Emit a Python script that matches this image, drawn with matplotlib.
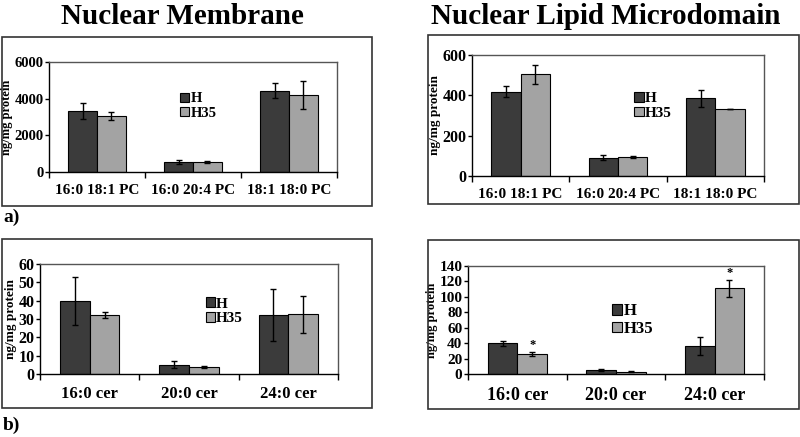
import numpy as np
import matplotlib
matplotlib.use("Agg")
import matplotlib.pyplot as plt
from matplotlib.patches import Rectangle

plt.rcParams['font.family'] = ['Liberation Serif', 'DejaVu Serif']
plt.rcParams['font.weight'] = 'bold'

W, H = 800, 437

pc_labels = ["16:0 18:1 PC", "16:0 20:4 PC", "18:1 18:0 PC"]
cer_labels = ["16:0 cer", "20:0 cer", "24:0 cer"]
series = ["H", "H35"]

# a) nuclear membrane
nm_pc_h = [3310, 545, 4420]
nm_pc_h_err = [430, 130, 410]
nm_pc_h35 = [3040, 545, 4200]
nm_pc_h35_err = [220, 40, 750]
# a) nuclear lipid microdomain
lm_pc_h = [418, 90, 385]
lm_pc_h_err = [27, 13, 42]
lm_pc_h35 = [504, 93, 332]
lm_pc_h35_err = [48, 4, 2]
# b) nuclear membrane
nm_cer_h = [39.8, 5.1, 32.2]
nm_cer_h_err = [13, 2, 14]
nm_cer_h35 = [32.2, 3.8, 32.5]
nm_cer_h35_err = [1.7, 0.7, 10]
# b) nuclear lipid microdomain
lm_cer_h = [39.6, 5.2, 35.8]
lm_cer_h_err = [3.7, 1.0, 11.6]
lm_cer_h35 = [25.9, 3.0, 111.2]
lm_cer_h35_err = [2.6, 0.5, 11]
lm_cer_star = [True, False, True]

dark = "#3b3b3b"
light = "#a3a3a3"

fig = plt.figure(figsize=(8, 4.37), dpi=100)


def px(x0, y0, x1, y1):
    return [x0 / W, 1 - y1 / H, (x1 - x0) / W, (y1 - y0) / H]


def panel(rect, labels, h, he, h35, h35e, ymax, ystep, tick_fs, xlab_fs, ylab_fs, leg_pos, leg_fs, stars=None):
    ax = fig.add_axes(px(*rect))
    x = np.arange(len(labels))
    w = 0.3
    ax.bar(x - w / 2, h, w, color=dark, edgecolor="black", linewidth=0.8,
           yerr=he, error_kw=dict(ecolor="black", elinewidth=1, capsize=2.5, capthick=1), label=series[0])
    ax.bar(x + w / 2, h35, w, color=light, edgecolor="black", linewidth=0.8,
           yerr=h35e, error_kw=dict(ecolor="black", elinewidth=1, capsize=2.5, capthick=1), label=series[1])
    if stars is not None:
        for i, s in enumerate(stars):
            if s:
                ax.text(x[i] + w / 2, h35[i] + h35e[i] + ymax * 0.01, "*", ha="center", va="bottom",
                        fontsize=9, fontweight="bold")
    ax.set_xlim(-0.5, len(labels) - 0.5)
    ax.set_ylim(0, ymax)
    ax.set_yticks(np.arange(0, ymax + ystep / 2, ystep))
    ax.set_xticks(x)
    ax.set_xticklabels(labels, fontsize=xlab_fs, fontweight="bold")
    ax.set_xticks(np.arange(-0.5, len(labels)), minor=True)
    ax.tick_params(axis="x", which="major", length=0, pad=9)
    ax.tick_params(axis="x", which="minor", length=4, direction="out", width=1)
    ax.tick_params(axis="y", length=3, width=1, direction="out", labelsize=tick_fs, pad=1)
    for t in ax.get_yticklabels():
        t.set_fontweight("bold")
    ax.set_ylabel("ng/mg protein", fontsize=ylab_fs, fontweight="bold", labelpad=1)
    for s in ["top", "right"]:
        ax.spines[s].set_color("#555555")
        ax.spines[s].set_linewidth(1)
    for s in ["left", "bottom"]:
        ax.spines[s].set_linewidth(1)
    ax.legend(loc="center left", bbox_to_anchor=leg_pos, frameon=False,
              handlelength=0.6, handleheight=0.6, handletextpad=0.1, labelspacing=0.1,
              borderpad=0, prop=dict(weight="bold", size=leg_fs))
    return ax


panel((49, 62, 337, 172), pc_labels, nm_pc_h, nm_pc_h_err, nm_pc_h35, nm_pc_h35_err,
      6000, 2000, 10.5, 11, 9, (0.43, 0.6), 10.5)
panel((472, 55, 764, 176), pc_labels, lm_pc_h, lm_pc_h_err, lm_pc_h35, lm_pc_h35_err,
      600, 200, 11.5, 11, 9.5, (0.53, 0.58), 11)
panel((40, 264, 338, 374), cer_labels, nm_cer_h, nm_cer_h_err, nm_cer_h35, nm_cer_h35_err,
      60, 10, 11.5, 12, 9.5, (0.53, 0.57), 11)
panel((468, 266, 764, 374), cer_labels, lm_cer_h, lm_cer_h_err, lm_cer_h35, lm_cer_h35_err,
      140, 20, 11, 13, 9, (0.46, 0.5), 12, stars=lm_cer_star)

# panel frames
for (x0, y0, x1, y1) in [(2, 37, 372, 206), (428, 35, 799, 204), (2, 239, 372, 408), (428, 240, 799, 409)]:
    fig.add_artist(Rectangle((x0 / W, 1 - y1 / H), (x1 - x0) / W, (y1 - y0) / H,
                             transform=fig.transFigure, fill=False, edgecolor="#333333", linewidth=1.2))

fig.text(182 / W, 1 - 16 / H, "Nuclear Membrane", ha="center", va="center", fontsize=21, fontweight="bold")
fig.text(606 / W, 1 - 16 / H, "Nuclear Lipid Microdomain", ha="center", va="center", fontsize=21, fontweight="bold")
fig.text(3 / W, 1 - 217 / H, "a)", ha="left", va="center", fontsize=14, fontweight="bold")
fig.text(3 / W, 1 - 425 / H, "b)", ha="left", va="center", fontsize=14, fontweight="bold")

fig.savefig("out.png", dpi=100)
